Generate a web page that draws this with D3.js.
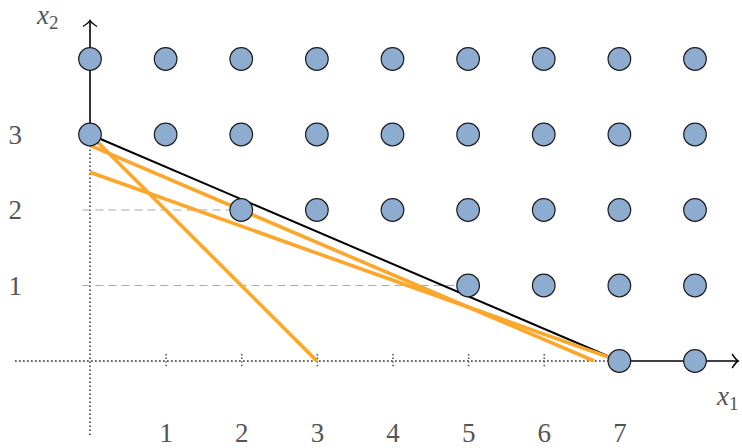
<!DOCTYPE html>
<html>
<head>
<meta charset="utf-8">
<script src="https://cdn.jsdelivr.net/npm/d3@7/dist/d3.min.js"></script>
<style>
  html, body { margin: 0; padding: 0; background: #fff; }
  svg { display: block; }
</style>
</head>
<body>
<svg id="chart" width="742" height="448"></svg>
<script>
// Integer lattice points (x1, x2)
const pointsX1 = [0, 1, 2, 3, 4, 5, 6, 7, 8,  0, 1, 2, 3, 4, 5, 6, 7, 8,  2, 3, 4, 5, 6, 7, 8,  5, 6, 7, 8,  7, 8];
const pointsX2 = [4, 4, 4, 4, 4, 4, 4, 4, 4,  3, 3, 3, 3, 3, 3, 3, 3, 3,  2, 2, 2, 2, 2, 2, 2,  1, 1, 1, 1,  0, 0];

// Constraint line 3x1 + 7x2 = 21, given by its two intercept points
const boundX1 = [0, 7];
const boundX2 = [3, 0];

// Cuts, each given by its two intercept points
const cutA_X1 = [0, 3];       const cutA_X2 = [3, 0];        // x1 + x2 = 3
const cutB_X1 = [0, 7];       const cutB_X2 = [2.5, 0];      // 5x1 + 14x2 = 35
const cutC_X1 = [0, 20 / 3];  const cutC_X2 = [20 / 7, 0];   // 3x1 + 7x2 = 20

// Guide lines at x2 = 2 and x2 = 1, running to the first point of each row
const guideX2 = [2, 1];
const guideEndX1 = [2, 5];

const xTicks = [1, 2, 3, 4, 5, 6, 7];
const yTicks = [1, 2, 3];

const serif = '"Liberation Serif", "DejaVu Serif", serif';
const svg = d3.select("#chart");
const x = d3.scaleLinear().domain([0, 8]).range([90, 695]);
const y = d3.scaleLinear().domain([0, 4]).range([361, 59]);

const dotted = "1.5,2.5";
const axisGrey = "#555";

// Dotted parts of the axes
svg.append("line")
  .attr("x1", x(-0.99)).attr("x2", x(7)).attr("y1", y(0)).attr("y2", y(0))
  .attr("stroke", axisGrey).attr("stroke-width", 1.8).attr("stroke-dasharray", dotted);
svg.append("line")
  .attr("x1", x(0)).attr("x2", x(0)).attr("y1", y(-0.98)).attr("y2", y(3))
  .attr("stroke", axisGrey).attr("stroke-width", 1.8).attr("stroke-dasharray", dotted);

// Solid parts of the axes with open arrow heads
svg.append("line")
  .attr("x1", x(7)).attr("x2", x(8.57)).attr("y1", y(0)).attr("y2", y(0))
  .attr("stroke", "#000").attr("stroke-width", 1.6);
svg.append("line")
  .attr("x1", x(0)).attr("x2", x(0)).attr("y1", y(3)).attr("y2", y(4.51))
  .attr("stroke", "#000").attr("stroke-width", 1.6);
const xa = x(8.57), ya = y(4.51);
svg.append("path")
  .attr("d", `M${xa - 6},${y(0) - 7} Q${xa - 2},${y(0) - 1} ${xa},${y(0)} Q${xa - 2},${y(0) + 1} ${xa - 6},${y(0) + 7}`)
  .attr("fill", "none").attr("stroke", "#000").attr("stroke-width", 1.4);
svg.append("path")
  .attr("d", `M${x(0) - 7},${ya + 6} Q${x(0) - 1},${ya + 2} ${x(0)},${ya} Q${x(0) + 1},${ya + 2} ${x(0) + 7},${ya + 6}`)
  .attr("fill", "none").attr("stroke", "#000").attr("stroke-width", 1.4);

// x axis: dotted tick marks crossing the axis, labels set far below
const gx = svg.append("g")
  .attr("transform", `translate(0,${y(0)})`)
  .call(d3.axisBottom(x).tickValues(xTicks).tickFormat(d3.format("d"))
    .tickSizeInner(7).tickSizeOuter(0).tickPadding(55));
gx.attr("font-family", null).attr("font-size", null);
gx.select(".domain").remove();
gx.selectAll(".tick line")
  .attr("y1", -7).attr("y2", 7)
  .attr("stroke", axisGrey).attr("stroke-width", 1.6).attr("stroke-dasharray", "1.4,2.2");
gx.selectAll(".tick text")
  .style("font-family", serif).style("font-size", "27px").attr("fill", "#555");

// y axis: labels only
const gy = svg.append("g")
  .attr("transform", `translate(${x(0)},0)`)
  .call(d3.axisLeft(y).tickValues(yTicks).tickFormat(d3.format("d"))
    .tickSizeInner(0).tickSizeOuter(0).tickPadding(68));
gy.attr("font-family", null).attr("font-size", null);
gy.select(".domain").remove();
gy.selectAll(".tick line").remove();
gy.selectAll(".tick text")
  .style("font-family", serif).style("font-size", "27px").attr("fill", "#555");

// Dashed guides
svg.selectAll(".guide")
  .data(guideX2)
  .join("line")
  .attr("class", "guide")
  .attr("x1", x(-0.1)).attr("x2", (d, i) => x(guideEndX1[i]))
  .attr("y1", d => y(d)).attr("y2", d => y(d))
  .attr("stroke", "#aaa").attr("stroke-width", 1.2).attr("stroke-dasharray", "8,5");

// Constraint line
const line = d3.line().x(d => x(d[0])).y(d => y(d[1]));
svg.append("path")
  .attr("d", line(d3.zip(boundX1, boundX2)))
  .attr("fill", "none").attr("stroke", "#000").attr("stroke-width", 2);

// Cuts
const cuts = [d3.zip(cutA_X1, cutA_X2), d3.zip(cutB_X1, cutB_X2), d3.zip(cutC_X1, cutC_X2)];
svg.selectAll(".cut")
  .data(cuts)
  .join("path")
  .attr("class", "cut")
  .attr("d", d => line(d))
  .attr("fill", "none").attr("stroke", "#faa72c").attr("stroke-width", 3.6);

// Lattice points
svg.selectAll(".pt")
  .data(d3.range(pointsX1.length))
  .join("circle")
  .attr("class", "pt")
  .attr("cx", i => x(pointsX1[i]))
  .attr("cy", i => y(pointsX2[i]))
  .attr("r", 11.3)
  .attr("fill", "#8eabd0").attr("stroke", "#1a1a1a").attr("stroke-width", 1.2);

// Axis names
const xName = svg.append("text")
  .style("font-family", serif).style("font-size", "27px").attr("fill", "#555")
  .attr("x", 717).attr("y", 405);
xName.append("tspan").attr("font-style", "italic").text("x");
xName.append("tspan").style("font-size", "19px").attr("dy", 5).text("1");

const yName = svg.append("text")
  .style("font-family", serif).style("font-size", "27px").attr("fill", "#555")
  .attr("x", 37).attr("y", 24);
yName.append("tspan").attr("font-style", "italic").text("x");
yName.append("tspan").style("font-size", "19px").attr("dy", 5).text("2");
</script>
</body>
</html>
